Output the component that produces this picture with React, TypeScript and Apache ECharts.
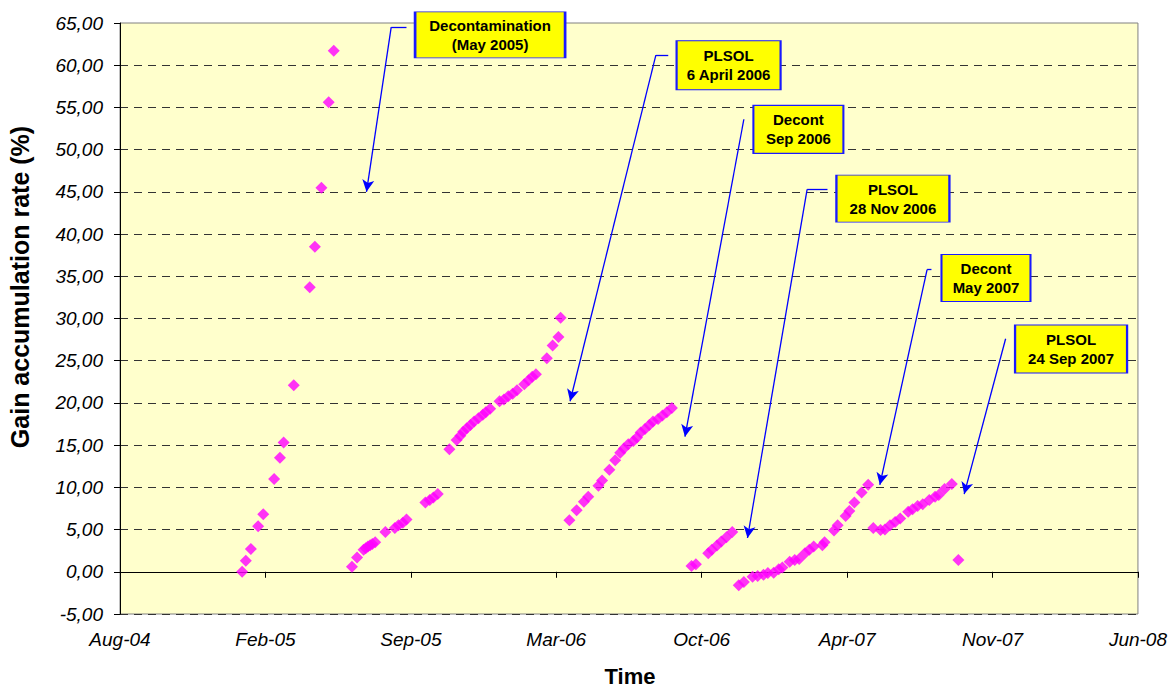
import * as echarts from "echarts";
import { useEffect, useRef } from "react";

type Pt = [string, number];

// gain readings per campaign (date, %)
const campaign2005: Pt[] = [
  ["2005-01-16", 0.0], ["2005-01-21", 1.3], ["2005-01-28", 2.7], ["2005-02-07", 5.4],
  ["2005-02-14", 6.8], ["2005-03-01", 11.0], ["2005-03-09", 13.5], ["2005-03-14", 15.3],
  ["2005-03-28", 22.1], ["2005-04-19", 33.7], ["2005-04-26", 38.5], ["2005-05-05", 45.5],
  ["2005-05-15", 55.6], ["2005-05-22", 61.7],
];

const campaign2005b: Pt[] = [
  ["2005-06-16", 0.6], ["2005-06-23", 1.7], ["2005-07-02", 2.6], ["2005-07-05", 2.8],
  ["2005-07-08", 3.0], ["2005-07-11", 3.15], ["2005-07-14", 3.3], ["2005-07-18", 3.5],
  ["2005-08-01", 4.7], ["2005-08-14", 5.2], ["2005-08-19", 5.5], ["2005-08-25", 5.8],
  ["2005-08-30", 6.2], ["2005-09-25", 8.2], ["2005-10-01", 8.5], ["2005-10-06", 8.8],
  ["2005-10-12", 9.2], ["2005-10-28", 14.5], ["2005-11-07", 15.6], ["2005-11-12", 16.1],
  ["2005-11-16", 16.6], ["2005-11-21", 17.0], ["2005-11-26", 17.4], ["2005-12-01", 17.8],
  ["2005-12-07", 18.2], ["2005-12-13", 18.6], ["2005-12-17", 18.9], ["2005-12-23", 19.3],
  ["2006-01-05", 20.2], ["2006-01-11", 20.4], ["2006-01-17", 20.8], ["2006-01-23", 21.1],
  ["2006-01-29", 21.5], ["2006-02-08", 22.2], ["2006-02-14", 22.7], ["2006-02-19", 23.1],
  ["2006-02-24", 23.4], ["2006-03-11", 25.3], ["2006-03-19", 26.8], ["2006-03-27", 27.8],
  ["2006-03-30", 30.1],
];

const campaign2006: Pt[] = [
  ["2006-04-11", 6.1], ["2006-04-21", 7.3], ["2006-05-01", 8.3], ["2006-05-07", 8.9],
  ["2006-05-21", 10.2], ["2006-05-26", 10.8], ["2006-06-05", 12.1], ["2006-06-13", 13.2],
  ["2006-06-20", 14.1], ["2006-06-25", 14.6], ["2006-07-01", 15.1], ["2006-07-08", 15.5],
  ["2006-07-13", 15.9], ["2006-07-18", 16.5], ["2006-07-24", 16.9], ["2006-07-30", 17.4],
  ["2006-08-04", 17.8], ["2006-08-11", 18.1], ["2006-08-17", 18.5], ["2006-08-23", 18.9],
  ["2006-08-30", 19.4],
];

const campaign2006b: Pt[] = [
  ["2006-09-26", 0.7], ["2006-10-02", 0.9], ["2006-10-19", 2.2], ["2006-10-24", 2.6],
  ["2006-10-31", 3.1], ["2006-11-06", 3.6], ["2006-11-13", 4.1], ["2006-11-21", 4.7],
];

const campaign2007: Pt[] = [
  ["2006-11-30", -1.6], ["2006-12-07", -1.2], ["2006-12-19", -0.6], ["2006-12-26", -0.5],
  ["2007-01-03", -0.35], ["2007-01-09", -0.15], ["2007-01-17", -0.1], ["2007-01-24", 0.3],
  ["2007-01-29", 0.5], ["2007-02-08", 1.2], ["2007-02-15", 1.4], ["2007-02-21", 1.5],
  ["2007-03-01", 2.2], ["2007-03-07", 2.6], ["2007-03-13", 3.0], ["2007-03-25", 3.15],
  ["2007-03-28", 3.5], ["2007-04-10", 4.9], ["2007-04-15", 5.5], ["2007-04-26", 6.6],
  ["2007-05-01", 7.2], ["2007-05-08", 8.2], ["2007-05-18", 9.4], ["2007-05-27", 10.3],
];

const campaign2007b: Pt[] = [
  ["2007-06-03", 5.2], ["2007-06-13", 4.95], ["2007-06-19", 5.0], ["2007-06-26", 5.5],
  ["2007-07-03", 5.9], ["2007-07-10", 6.3], ["2007-07-21", 7.1], ["2007-07-27", 7.4],
  ["2007-08-03", 7.8], ["2007-08-10", 8.0], ["2007-08-19", 8.5], ["2007-08-27", 8.9],
  ["2007-09-01", 9.1], ["2007-09-09", 9.8], ["2007-09-19", 10.4],
];

const campaign2007c: Pt[] = [["2007-09-28", 1.4]];

// callouts
const noteTexts = [
  "Decontamination\n(May 2005)",
  "PLSOL\n6 April 2006",
  "Decont\nSep 2006",
  "PLSOL\n28 Nov 2006",
  "Decont\nMay 2007",
  "PLSOL\n24 Sep 2007",
];
const noteAnchors: Pt[] = [
  ["2005-12-23", 63.6], ["2006-11-16", 60.0], ["2007-02-20", 52.4],
  ["2007-06-30", 44.2], ["2007-11-05", 34.8], ["2008-03-01", 26.4],
];
const noteArrows: Pt[][] = [
  [["2005-08-30", 64.5], ["2005-08-09", 64.5], ["2005-07-06", 45.0]],
  [["2006-08-25", 61.2], ["2006-08-08", 61.2], ["2006-04-12", 20.2]],
  [["2006-12-07", 53.6], ["2006-09-17", 16.0]],
  [["2007-04-01", 45.3], ["2007-03-04", 45.3], ["2006-12-12", 4.0]],
  [["2007-08-22", 35.8], ["2007-08-16", 35.8], ["2007-06-12", 10.3]],
  [["2007-12-02", 27.6], ["2007-10-06", 9.2]],
];
const noteBoxSizes = [[150, 46], [104, 49], [90, 48], [113, 47], [89, 47], [112, 48]];

const MONTHS = ["Jan", "Feb", "Mar", "Apr", "May", "Jun", "Jul", "Aug", "Sep", "Oct", "Nov", "Dec"];
const FONT = "'Liberation Sans', Arial, sans-serif";

// Excel-style day serial, so the 200-day tick step lines up from Aug-04
function toSerial(d: string) {
  const [y, m, day] = d.split("-").map(Number);
  return Date.UTC(y, m - 1, day) / 86400000 + 25569;
}

function serialLabel(s: number) {
  const dt = new Date((s - 25569) * 86400000);
  return MONTHS[dt.getUTCMonth()] + "-" + String(dt.getUTCFullYear()).slice(2);
}

export default function App() {
  const ref = useRef<HTMLDivElement | null>(null);

  useEffect(() => {
    if (!ref.current) return;
    const chart = echarts.init(ref.current, null, { renderer: "svg" });

    const all = [
      ...campaign2005, ...campaign2005b, ...campaign2006, ...campaign2006b,
      ...campaign2007, ...campaign2007b, ...campaign2007c,
    ].map(([d, v]) => [toSerial(d), v]);

    const lines: any[] = [];
    noteArrows.forEach((path) => {
      for (let i = 0; i < path.length - 1; i++) {
        const last = i === path.length - 2;
        lines.push([
          { coord: [toSerial(path[i][0]), path[i][1]], symbol: "none" },
          {
            coord: [toSerial(path[i + 1][0]), path[i + 1][1]],
            symbol: last ? "arrow" : "none",
            symbolSize: [9, 12],
          },
        ]);
      }
    });

    const boxes = noteTexts.map((t, i) => ({
      name: t,
      coord: [toSerial(noteAnchors[i][0]), noteAnchors[i][1]],
      symbolSize: noteBoxSizes[i],
    }));

    chart.setOption({
      animation: false,
      backgroundColor: "#fff",
      textStyle: { fontFamily: FONT },
      grid: {
        left: 120, right: 30, top: 23, bottom: 76,
        show: true, backgroundColor: "#FFFFCC", borderColor: "#808080", borderWidth: 1,
      },
      xAxis: {
        type: "value",
        min: 38200,
        max: 39600,
        interval: 200,
        axisLine: { lineStyle: { color: "#000", width: 1 } },
        axisTick: { show: true, length: 6, lineStyle: { color: "#000" } },
        axisLabel: {
          formatter: serialLabel,
          color: "#000", fontStyle: "italic", fontSize: 19, fontFamily: FONT, margin: 16,
        },
        splitLine: { show: false },
      },
      yAxis: {
        type: "value",
        min: -5,
        max: 65,
        interval: 5,
        axisLine: { show: true, lineStyle: { color: "#000", width: 1 } },
        axisTick: { show: true, length: 6, lineStyle: { color: "#000" } },
        axisLabel: {
          formatter: (v: number) => v.toFixed(2).replace(".", ","),
          color: "#000", fontStyle: "italic", fontSize: 19, fontFamily: FONT, margin: 17,
        },
        splitLine: {
          show: true,
          showMaxLine: false,
          lineStyle: { color: "#333", type: [8, 6], width: 1 },
        },
      },
      graphic: [
        {
          type: "text", x: 20, y: 287, rotation: Math.PI / 2,
          style: {
            text: "Gain accumulation rate (%)", fontSize: 25, fontWeight: "bold",
            fontFamily: FONT, fill: "#000", align: "center", verticalAlign: "middle",
          },
        },
        {
          type: "text", x: 630, y: 676,
          style: {
            text: "Time", fontSize: 22, fontWeight: "bold", fontFamily: FONT, fill: "#000",
            align: "center", verticalAlign: "middle",
          },
        },
      ],
      series: [
        {
          type: "scatter",
          symbol: "diamond",
          symbolSize: 12,
          clip: false,
          itemStyle: { color: "#FF00FF" },
          data: all,
          markLine: {
            silent: true,
            symbol: ["none", "none"],
            label: { show: false },
            lineStyle: { color: "#0000FF", width: 1.3, type: "solid" },
            emphasis: { disabled: true },
            data: lines,
          },
          markPoint: {
            silent: true,
            symbol: "rect",
            itemStyle: { color: "#FFFF00", borderColor: "#1A1AFF", borderWidth: 1.5 },
            label: {
              show: true, position: "inside", formatter: "{b}", color: "#000",
              fontSize: 15, fontWeight: "bold", fontFamily: FONT, lineHeight: 19,
            },
            emphasis: { disabled: true },
            data: boxes,
          },
        },
      ],
    });

    return () => chart.dispose();
  }, []);

  return (
    <div
      ref={ref}
      style={{ position: "absolute", left: 0, top: 0, width: 1170, height: 690 }}
    />
  );
}
